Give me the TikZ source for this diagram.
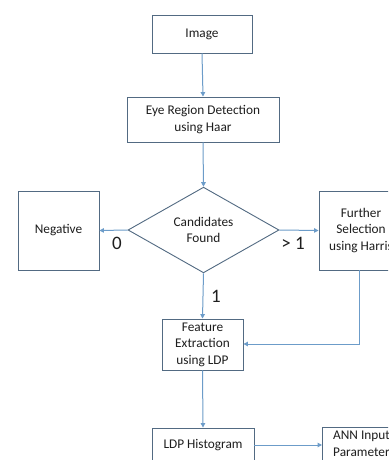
\documentclass[tikz,border=0pt]{standalone}
\usepackage{fontspec}
\setmainfont{Carlito}
\usetikzlibrary{shapes.geometric,arrows.meta}
\definecolor{boxline}{HTML}{526A82}
\definecolor{arrowline}{HTML}{6C9CC9}
\definecolor{txt}{HTML}{1E1E1E}
\begin{document}
\begin{tikzpicture}[x=1pt,y=-1pt,
  font=\fontsize{13.3}{16.5}\selectfont, text=txt,
  box/.style={draw=boxline, line width=0.9pt, fill=white, inner sep=0pt, align=center},
  dia/.style={draw=boxline, line width=0.9pt, fill=white, diamond, inner sep=0pt, align=center},
  conn/.style={draw=arrowline, line width=1pt, -{Triangle[length=4.5pt,width=4.5pt]}},
  lbl/.style={font=\fontsize{19}{22}\selectfont, text=txt}]
\clip (0,0) rectangle (388,460);
\fill[white] (0,0) rectangle (388,460);
\node[box, minimum width=100pt, minimum height=38pt] (img) at (202,34) {Image};
\node[box, minimum width=152pt, minimum height=45pt] (eye) at (203,119.5) {Eye Region Detection\\using Haar};
\node[dia, minimum width=151pt, minimum height=78pt] (cand) at (203.5,230) {Candidates\\Found};
\node[box, minimum width=81pt, minimum height=79pt] (neg) at (58.5,230.5) {Negative};
\node[box, minimum width=84pt, minimum height=79pt] (fur) at (361,230.5) {Further\\Selection\\using Harris};
\node[box, minimum width=81pt, minimum height=51pt] (feat) at (202.5,344.5) {Feature\\Extraction\\using LDP};
\node[box, minimum width=102pt, minimum height=34pt] (hist) at (203,445) {LDP Histogram};
\node[box, minimum width=88pt, minimum height=38pt, anchor=north west] (ann) at (322,427) {};
\node[anchor=north west, align=left, inner sep=0pt] (anntxt) at (333,431) {ANN Input\\Parameters};
\coordinate (bend) at (359,344);
\draw[conn] (img.south) -- (eye.north);
\draw[conn] (eye.south) -- (cand.north);
\draw[conn] (cand.west) -- (neg.east);
\draw[conn] (cand.east) -- (fur.west);
\draw[conn] (cand.south) -- (feat.north);
\draw[conn] (bend |- fur.south) -- (bend) -- (feat.east |- bend);
\draw[conn] (feat.south) -- (hist.north);
\draw[conn] (hist.east) -- (hist.east -| ann.west);
\node[lbl] (l0) at (117,243) {0};
\node[lbl] (l1) at (293,243) {> 1};
\node[lbl] (l2) at (216,296) {1};
\end{tikzpicture}
\end{document}
